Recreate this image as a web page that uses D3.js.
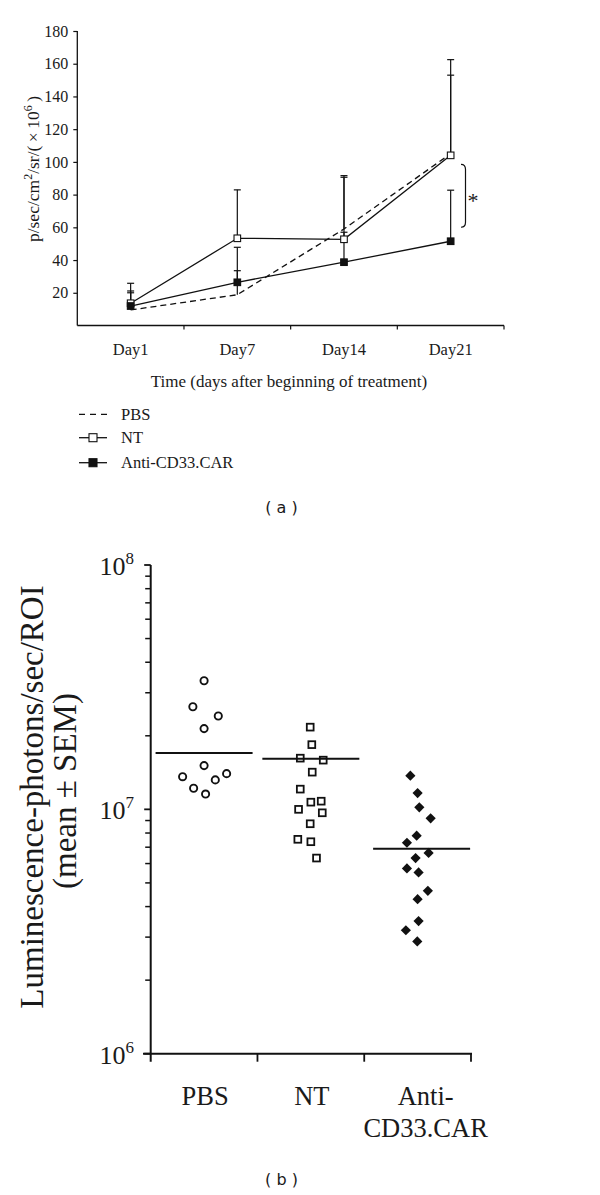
<!DOCTYPE html>
<html><head><meta charset="utf-8">
<script src="https://cdn.jsdelivr.net/npm/d3@7"></script>
<style>
body{margin:0;background:#fff}
svg{display:block}
text{font-family:"Liberation Serif","Times New Roman",serif;fill:#1a1a1a}
</style>
</head><body>
<svg id="c" width="600" height="1195"></svg>
<script>
// ---------- Panel (a) data ----------
const days = ["Day1", "Day7", "Day14", "Day21"];
const pbsMean = [9.5, 18.8, 59, 105];
const pbsSem  = [10.5, 14.7, 31.6, 48];
const ntMean  = [13.6, 53.3, 52.7, 104];
const ntSem   = [12.2, 29.6, 38.9, 58.5];
const carMean = [11.9, 26.4, 38.7, 51.5];
const carSem  = [9.2, 21.4, 18.3, 31.2];
const yTicksA = [20, 40, 60, 80, 100, 120, 140, 160, 180];
const legendLabels = ["PBS", "NT", "Anti-CD33.CAR"];

// ---------- Panel (b) data ----------
const groups = ["PBS", "NT", "Anti-CD33.CAR"];
const pbsPoints = [3.36e7, 2.63e7, 2.41e7, 2.14e7, 1.51e7, 1.36e7, 1.40e7, 1.22e7, 1.32e7, 1.155e7];
const pbsJitter = [0, -0.105, 0.133, 0, 0, -0.201, 0.211, -0.098, 0.105, 0.014];
const ntPoints = [2.17e7, 1.84e7, 1.62e7, 1.59e7, 1.42e7, 1.21e7, 1.07e7, 1.08e7, 1.0e7, 9.68e6, 8.73e6, 7.54e6, 7.37e6, 6.32e6];
const ntJitter = [-0.006, 0.009, -0.099, 0.116, 0.013, -0.099, 0, 0.097, -0.115, 0.107, -0.006, -0.122, 0, 0.053];
const carPoints = [1.373e7, 1.166e7, 1.019e7, 9.19e6, 7.8e6, 7.3e6, 6.63e6, 6.32e6, 5.73e6, 5.52e6, 4.64e6, 4.29e6, 3.49e6, 3.2e6, 2.88e6];
const carJitter = [-0.068, 0, 0.016, 0.122, -0.009, -0.1, 0.103, -0.019, -0.1, 0.009, 0.096, 0, 0.009, -0.11, -0.003];
const groupMeans = [1.70e7, 1.61e7, 6.9e6];
const yTicksB = [1e6, 1e7, 1e8];
const catLines = [["PBS"], ["NT"], ["Anti-", "CD33.CAR"]];

const ink = "#111";
const svg = d3.select("#c");

// ================= Panel (a) =================
const ga = svg.append("g");
const xA = d3.scaleBand().domain(days).range([77.3, 504]).padding(0);
const yA = d3.scaleLinear().domain([0, 180]).range([325.5, 31]);

// y axis
const yAxisA = d3.axisLeft(yA).tickValues(yTicksA).tickSize(4).tickPadding(5).tickFormat(d3.format("d"));
const gya = ga.append("g").attr("transform", "translate(77.3,0)").call(yAxisA);
gya.select(".domain").attr("d", `M0,${yA(0)}V${yA(180)}`).attr("stroke", ink).attr("stroke-width", 1.3);
gya.selectAll(".tick line").attr("stroke", ink).attr("stroke-width", 1.2);
gya.selectAll(".tick text").style("font-size", "16px").attr("fill", ink)
   .attr("font-family", "Liberation Serif, serif");

// x axis line and boundary ticks
const xBounds = days.map(d => xA(d)).concat([xA.range()[1]]);
ga.append("line").attr("x1", xA.range()[0]).attr("x2", xA.range()[1])
  .attr("y1", yA(0)).attr("y2", yA(0)).attr("stroke", ink).attr("stroke-width", 1.3);
ga.selectAll(".xtA").data(xBounds.slice(1)).join("line")
  .attr("x1", d => d).attr("x2", d => d).attr("y1", yA(0)).attr("y2", yA(0) + 4)
  .attr("stroke", ink).attr("stroke-width", 1.2);
ga.selectAll(".xlA").data(days).join("text")
  .attr("x", d => xA(d) + xA.bandwidth() / 2).attr("y", 355)
  .attr("text-anchor", "middle").style("font-size", "16.5px").text(d => d);
ga.append("text").attr("x", 289).attr("y", 387).attr("text-anchor", "middle")
  .style("font-size", "17px").text("Time (days after beginning of treatment)");

// y label
const yl = ga.append("text").attr("transform", "translate(38.5,169) rotate(-90)")
  .attr("text-anchor", "middle").style("font-size", "17.5px");
yl.append("tspan").text("p/sec/cm");
yl.append("tspan").attr("dy", -6.5).style("font-size", "12px").text("2");
yl.append("tspan").attr("dy", 6.5).text("/sr/(\u2009\u00d7\u200910");
yl.append("tspan").attr("dy", -6.5).style("font-size", "12px").text("6");
yl.append("tspan").attr("dy", 6.5).text("\u2009)");

const cx = d => xA(d) + xA.bandwidth() / 2;
const seriesA = [
  {name: "PBS", mean: pbsMean, sem: pbsSem, dash: "6,4", marker: null},
  {name: "NT", mean: ntMean, sem: ntSem, dash: null, marker: "#fff"},
  {name: "Anti-CD33.CAR", mean: carMean, sem: carSem, dash: null, marker: ink}
];

// error bars (upper only)
seriesA.forEach(s => {
  days.forEach((d, i) => {
    const x = cx(d), y0 = yA(s.mean[i]), y1 = yA(s.mean[i] + s.sem[i]);
    ga.append("line").attr("x1", x).attr("x2", x).attr("y1", y0).attr("y2", y1)
      .attr("stroke", ink).attr("stroke-width", 1.2);
    ga.append("line").attr("x1", x - 3.5).attr("x2", x + 3.5).attr("y1", y1).attr("y2", y1)
      .attr("stroke", ink).attr("stroke-width", 1.2);
  });
});

// lines
const lineA = d3.line().x((v, i) => cx(days[i])).y(v => yA(v));
seriesA.forEach(s => {
  ga.append("path").attr("d", lineA(s.mean)).attr("fill", "none").attr("stroke", ink)
    .attr("stroke-width", 1.3).attr("stroke-dasharray", s.dash);
});
// markers
seriesA.filter(s => s.marker).forEach(s => {
  ga.selectAll(null).data(s.mean).join("rect")
    .attr("x", (v, i) => cx(days[i]) - 3.3).attr("y", v => yA(v) - 3.3)
    .attr("width", 6.6).attr("height", 6.6)
    .attr("fill", s.marker).attr("stroke", ink).attr("stroke-width", 1.1);
});

// significance bracket
const bTop = yA(ntMean[3]) + 9, bBot = yA(carMean[3]) - 14;
const bx = 461, bm = (bTop + bBot) / 2;
ga.append("path")
  .attr("d", `M${bx},${bTop} Q${bx + 4.5},${bTop} ${bx + 4.5},${bTop + 5} L${bx + 4.5},${bBot - 5} Q${bx + 4.5},${bBot} ${bx},${bBot}`)
  .attr("fill", "none").attr("stroke", ink).attr("stroke-width", 1.2);
ga.append("text").attr("x", 473).attr("y", bm + 12).attr("text-anchor", "middle")
  .style("font-size", "22px").attr("fill", "#333").text("*");

// legend
const legY = [414.3, 437.7, 462.7];
seriesA.forEach((s, i) => {
  ga.append("line").attr("x1", 79).attr("x2", 107).attr("y1", legY[i]).attr("y2", legY[i])
    .attr("stroke", ink).attr("stroke-width", 1.3).attr("stroke-dasharray", s.dash ? "6,5" : null);
  if (s.marker) {
    ga.append("rect").attr("x", 93 - 4).attr("y", legY[i] - 4).attr("width", 8).attr("height", 8)
      .attr("fill", s.marker).attr("stroke", ink).attr("stroke-width", 1.1);
  }
  ga.append("text").attr("x", 121).attr("y", legY[i] + 5.5).style("font-size", "16.5px").text(legendLabels[i]);
});

ga.append("text").attr("x", 281.5).attr("y", 513).attr("text-anchor", "middle")
  .style("font-family", "DejaVu Sans, sans-serif").style("font-size", "16px").text("( a )");

// ================= Panel (b) =================
const gb = svg.append("g");
const xB = d3.scaleBand().domain(groups).range([150.7, 471]).padding(0);
const yB = d3.scaleLog().domain([1e6, 1e8]).range([1053.7, 565]);

// minor ticks
const minor = [];
[1e6, 1e7].forEach(b => { for (let k = 2; k <= 9; k++) minor.push(b * k); });
gb.selectAll(".mt").data(minor).join("line")
  .attr("x1", 150.7 - 5.5).attr("x2", 150.7).attr("y1", d => yB(d)).attr("y2", d => yB(d))
  .attr("stroke", ink).attr("stroke-width", 1.5);
gb.selectAll(".Mt").data(yTicksB).join("line")
  .attr("x1", 150.7 - 6.5).attr("x2", 150.7).attr("y1", d => yB(d)).attr("y2", d => yB(d))
  .attr("stroke", ink).attr("stroke-width", 1.8);
// axis lines
gb.append("line").attr("x1", 150.7).attr("x2", 150.7).attr("y1", yB(1e8)).attr("y2", yB(1e6) + 8)
  .attr("stroke", ink).attr("stroke-width", 2);
gb.append("line").attr("x1", 143).attr("x2", 472).attr("y1", yB(1e6)).attr("y2", yB(1e6))
  .attr("stroke", ink).attr("stroke-width", 2);
const xbB = groups.map(g => xB(g)).concat([xB.range()[1]]);
gb.selectAll(".xtB").data(xbB.slice(1)).join("line")
  .attr("x1", d => d).attr("x2", d => d).attr("y1", yB(1e6)).attr("y2", yB(1e6) + 8)
  .attr("stroke", ink).attr("stroke-width", 1.8);

// tick labels 10^n
yTicksB.forEach(v => {
  const t = gb.append("text").attr("x", 134).attr("y", yB(v) + 10).attr("text-anchor", "end")
    .style("font-size", "26px");
  t.append("tspan").text("10");
  t.append("tspan").attr("dy", -11).style("font-size", "17px").text(String(Math.round(Math.log10(v))));
});

// y label
gb.append("text").attr("transform", "translate(43,797) rotate(-90)")
  .attr("text-anchor", "middle").style("font-size", "33px").text("Luminescence-photons/sec/ROI");
gb.append("text").attr("transform", "translate(76,791) rotate(-90)")
  .attr("text-anchor", "middle").style("font-size", "33px").text("(mean \u00b1 SEM)");

// category labels
catLines.forEach((lines, i) => {
  lines.forEach((l, j) => {
    gb.append("text").attr("x", xB(groups[i]) + xB.bandwidth() / 2 + (i === 2 ? 8 : 1))
      .attr("y", 1105 + j * 31.5).attr("text-anchor", "middle").style("font-size", "26.5px").text(l);
  });
});

const bw = xB.bandwidth();
const bc = g => xB(g) + bw / 2;
// PBS circles
gb.selectAll(".pc").data(pbsPoints).join("circle")
  .attr("cx", (v, i) => bc("PBS") + pbsJitter[i] * bw).attr("cy", v => yB(v)).attr("r", 3.6)
  .attr("fill", "#fff").attr("stroke", ink).attr("stroke-width", 1.9);
// NT squares
gb.selectAll(".ns").data(ntPoints).join("rect")
  .attr("x", (v, i) => bc("NT") + ntJitter[i] * bw - 3.4).attr("y", v => yB(v) - 3.4)
  .attr("width", 6.8).attr("height", 6.8)
  .attr("fill", "#fff").attr("stroke", ink).attr("stroke-width", 1.8);
// CAR diamonds
gb.selectAll(".cd").data(carPoints).join("path")
  .attr("d", d3.symbol().type(d3.symbolSquare).size(52))
  .attr("transform", (v, i) => `translate(${bc("Anti-CD33.CAR") + carJitter[i] * bw},${yB(v)}) rotate(45)`)
  .attr("fill", ink);
// mean lines
groups.forEach((g, i) => {
  const c = bc(g) + (i === 2 ? 4 : 0);
  gb.append("line").attr("x1", c - 48.5).attr("x2", c + 48.5)
    .attr("y1", yB(groupMeans[i])).attr("y2", yB(groupMeans[i]))
    .attr("stroke", ink).attr("stroke-width", 2);
});

gb.append("text").attr("x", 281.5).attr("y", 1185).attr("text-anchor", "middle")
  .style("font-family", "DejaVu Sans, sans-serif").style("font-size", "16px").text("( b )");
</script>
</body></html>
